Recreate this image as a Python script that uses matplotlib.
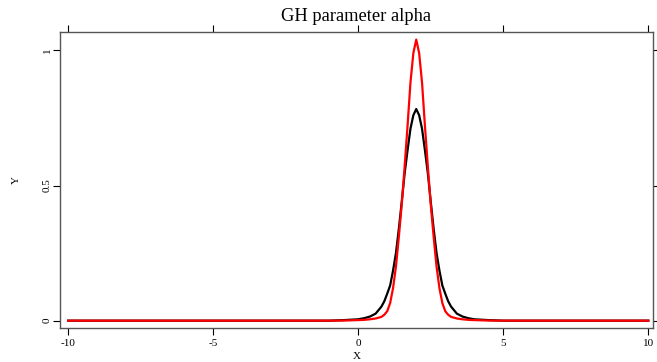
import matplotlib
matplotlib.use("Agg")
import matplotlib.pyplot as plt

# density estimates
x_vals = [-10, -1.0, -0.5, 0.0, 0.2, 0.4, 0.6, 0.8, 0.9, 1.0, 1.1, 1.2, 1.3, 1.4, 1.5,
          1.6, 1.7, 1.8, 1.9, 2.0, 2.1, 2.2, 2.3, 2.4, 2.5, 2.6, 2.7, 2.8, 2.9,
          3.0, 3.1, 3.2, 3.4, 3.6, 3.8, 4.0, 4.5, 5.0, 10]
black = [0.0, 0.0, 0.002, 0.005, 0.009, 0.015, 0.026, 0.052, 0.072, 0.10, 0.13, 0.185, 0.25, 0.34, 0.44,
         0.545, 0.63, 0.71, 0.76, 0.783, 0.76, 0.71, 0.63, 0.545, 0.44, 0.34, 0.25, 0.185, 0.13,
         0.10, 0.072, 0.052, 0.026, 0.015, 0.009, 0.005, 0.002, 0.0, 0.0]
red = [0.0, 0.0, 0.0005, 0.002, 0.003, 0.005, 0.008, 0.014, 0.022, 0.035, 0.065, 0.12, 0.20, 0.31, 0.43,
       0.57, 0.72, 0.88, 0.99, 1.04, 0.99, 0.88, 0.72, 0.57, 0.43, 0.31, 0.20, 0.12, 0.065,
       0.035, 0.022, 0.014, 0.008, 0.005, 0.003, 0.002, 0.0005, 0.0, 0.0]

plt.rcParams['font.family'] = ['Liberation Serif', 'DejaVu Serif']

fig = plt.figure(figsize=(6.57, 3.62), dpi=100)
ax = fig.add_axes([0.0918, 0.0948, 0.9016, 0.8168])

ax.plot(x_vals, black, color='black', lw=1.6)
ax.plot(x_vals, red, color='red', lw=1.6)

ax.set_xlim(-10.27, 10.15)
ax.set_ylim(-0.026, 1.068)
ax.set_xticks([-10, -5, 0, 5, 10])
ax.set_xticklabels(['-10', '-5', '0', '5', '10'])
ax.set_yticks([0, 0.5, 1])
ax.set_yticklabels(['0', '0.5', '1'], rotation=90, va='center')
ax.tick_params(top=True, right=True, labeltop=False, labelright=False,
               direction='out', length=5, width=0.8, labelsize=8)
ax.tick_params(axis='x', pad=3)
ax.tick_params(axis='y', pad=1)

for s in ax.spines.values():
    s.set_color('#555555')
    s.set_linewidth(1.0)

ax.set_title('GH parameter alpha', fontsize=13.3, pad=8)
ax.set_xlabel('X', fontsize=8, labelpad=3)
ax.set_ylabel('Y', fontsize=8, labelpad=16)

fig.savefig('out.png', dpi=100)
